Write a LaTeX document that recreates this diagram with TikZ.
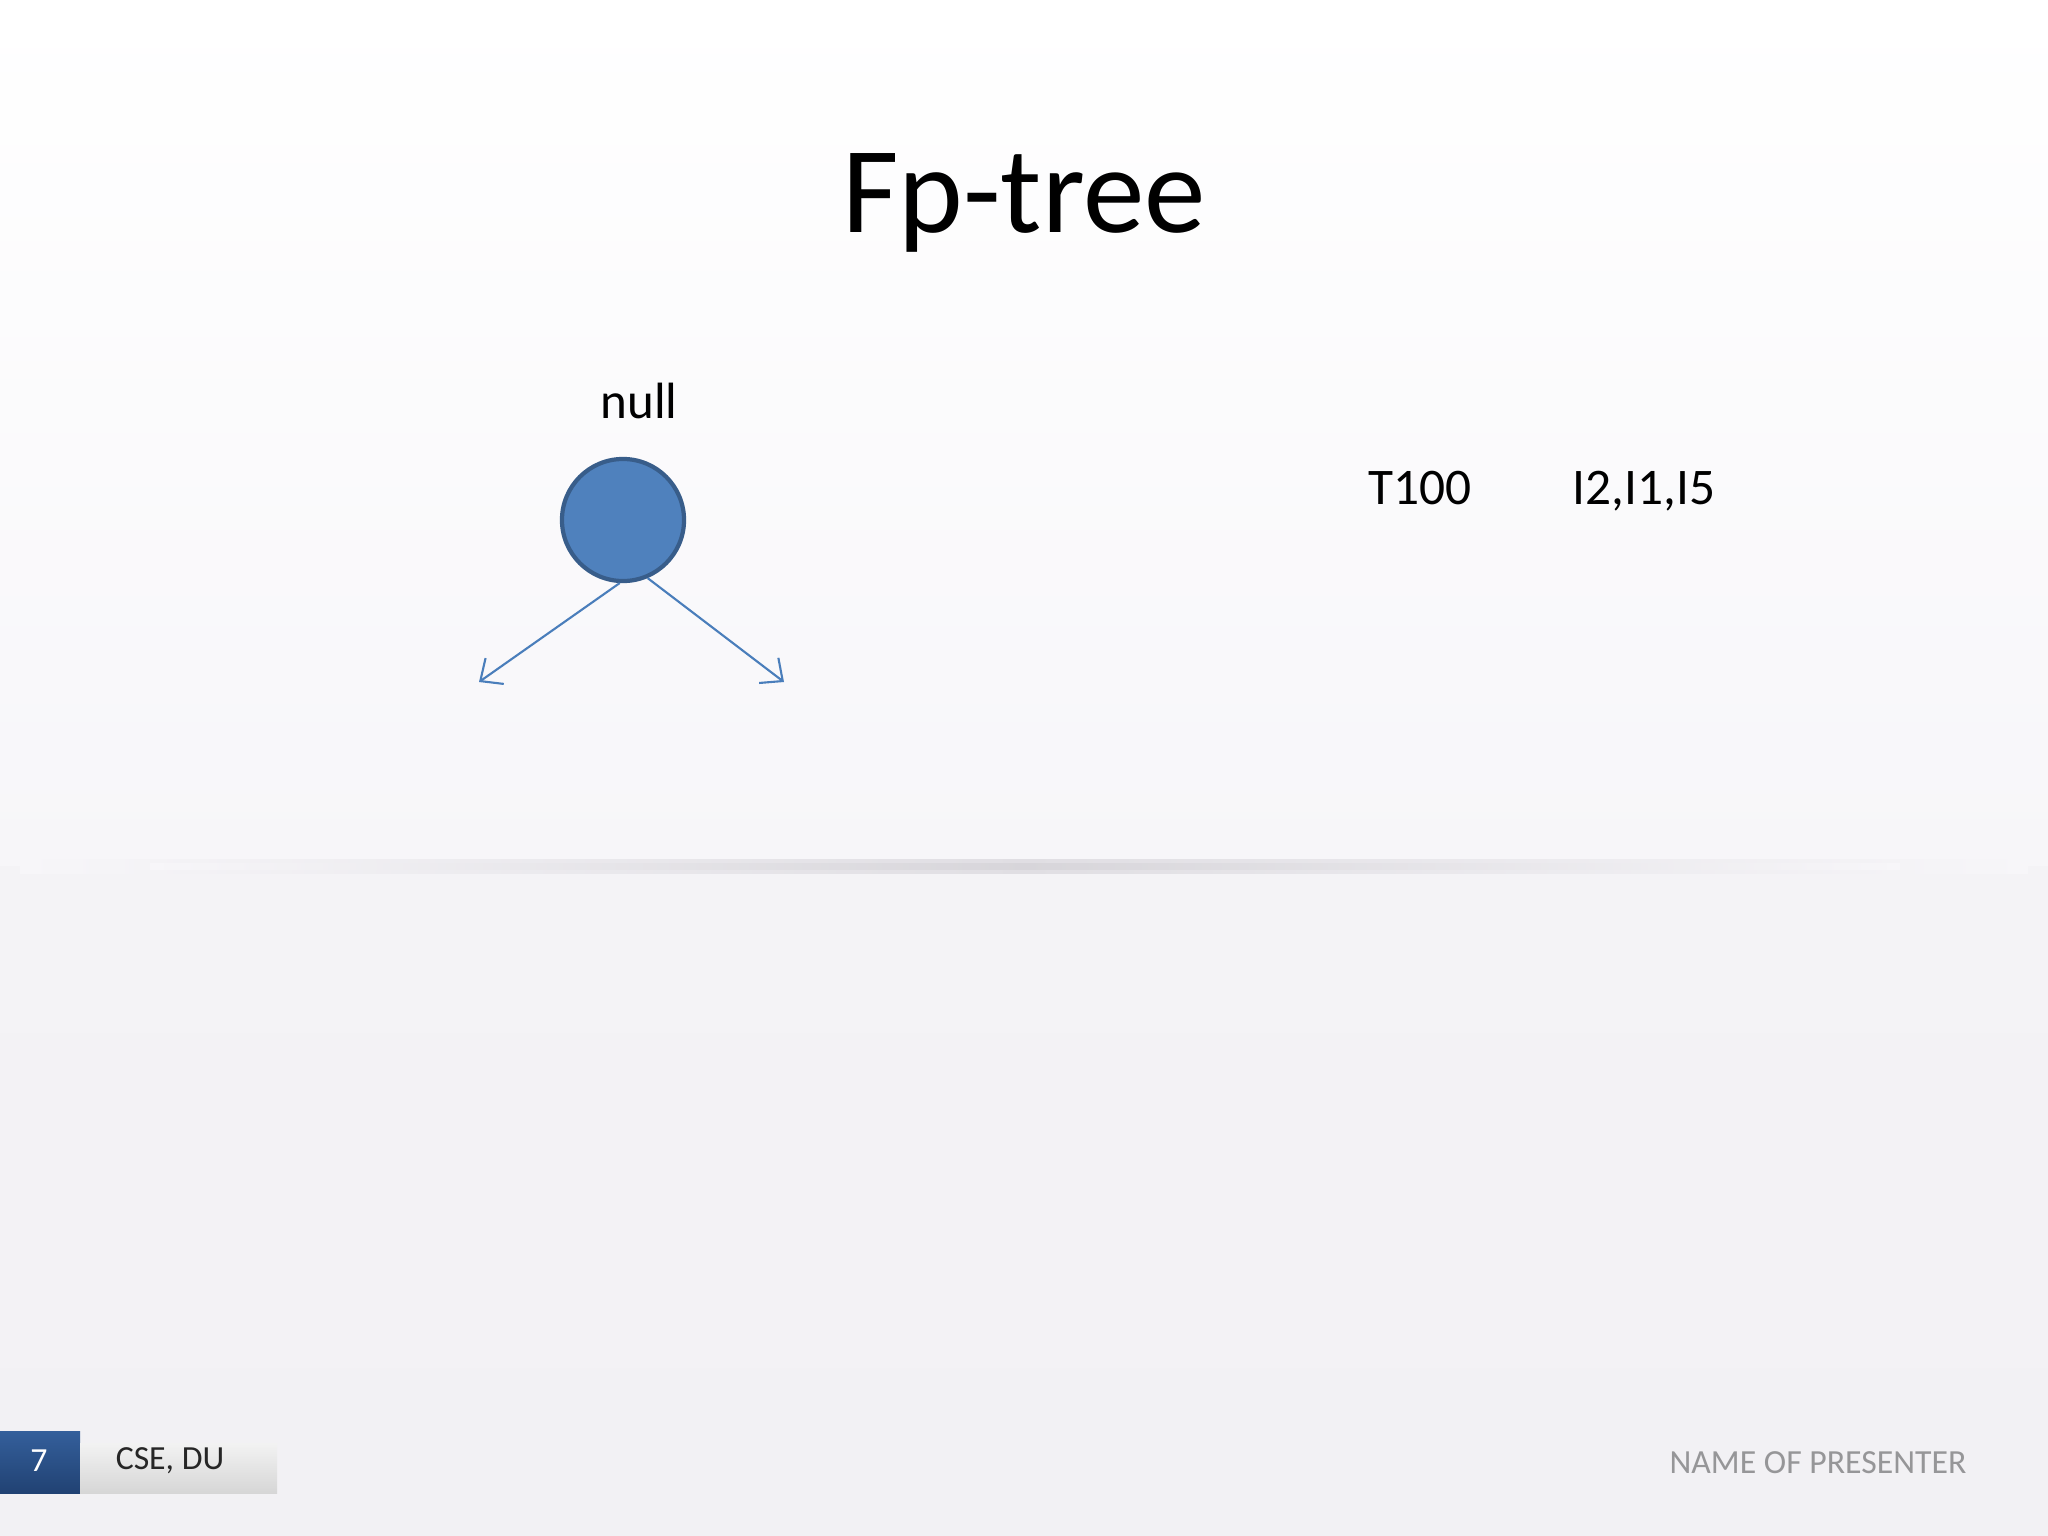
\documentclass[tikz,border=0pt]{standalone}
\usepackage{fontspec}
\setmainfont{Carlito}
\usetikzlibrary{arrows.meta,positioning}
\definecolor{nodeblue}{RGB}{79,129,189}
\definecolor{nodeedge}{RGB}{56,93,138}
\definecolor{arrowblue}{RGB}{74,126,187}
\definecolor{footblue}{RGB}{33,66,115}
\definecolor{footbluetop}{RGB}{52,95,155}
\definecolor{presgray}{RGB}{150,150,152}
\definecolor{bgtop}{RGB}{255,255,255}
\definecolor{bgmid}{RGB}{247,246,249}
\definecolor{bglow}{RGB}{242,241,244}
\definecolor{sepgray}{RGB}{224,222,227}
\tikzstyle{vertex}=[draw=nodeedge,fill=nodeblue,circle,line width=1.2pt,minimum size=1.22cm,inner sep=0pt]
\tikzstyle{label}=[inner sep=0pt,font=\fontsize{14.5}{17}\selectfont]
\tikzstyle{item}=[inner sep=0pt,anchor=base,font=\fontsize{14.6}{17}\selectfont]
\tikzstyle{foot}=[inner sep=0pt,font=\fontsize{9.6}{11}\selectfont]

\begin{document}
\begin{tikzpicture}[x=0.01cm,y=-0.01cm]
\useasboundingbox (0,0) rectangle (2048,1536);
% background
\shade[top color=bgtop,bottom color=bgmid] (0,0) rectangle (2048,866);
\shade[top color=bglow!60!bgmid,bottom color=bglow] (0,866) rectangle (2048,1536);
\shade[left color=bgmid,right color=bgmid,middle color=sepgray] (20,859) rectangle (2028,873);
\shade[left color=bgmid,right color=bgmid,middle color=sepgray!80!black!20!sepgray] (150,863) rectangle (1900,869);
% title
\draw (1024,203) node [inner sep=0pt,font=\fontsize{35}{40}\selectfont] (title) {Fp-tree};
% tree
\draw (623,520) node [vertex] (root) {};
\draw (639,401) node [label] (nulltxt) {null};
\coordinate (leftend) at (479,682);
\coordinate (rightend) at (784,682);
\draw[arrowblue,line width=0.6pt,-{Straight Barb[length=5pt,width=9pt]}] (root.-93) -- (leftend);
\draw[arrowblue,line width=0.6pt,-{Straight Barb[length=5pt,width=9pt]}] (root.-67) -- (rightend);
% transaction
\draw (1420,504) node [item] (tid) {T100};
\draw (1644,504) node [item] (items) {I2,I1,I5};
% footer
\shade[top color=footbluetop,bottom color=footblue] (0,1431) rectangle (80,1493);
\shade[top color=white!95!black,bottom color=white!84!black] (80,1443) rectangle (277,1493);
\draw (39,1461) node [foot,text=white] (pagenum) {7};
\draw (170,1461) node [foot,text=black!85] (org) {CSE, DU};
\draw (1818,1463) node [foot,text=presgray] (presenter) {NAME OF PRESENTER};
\end{tikzpicture}
\end{document}
